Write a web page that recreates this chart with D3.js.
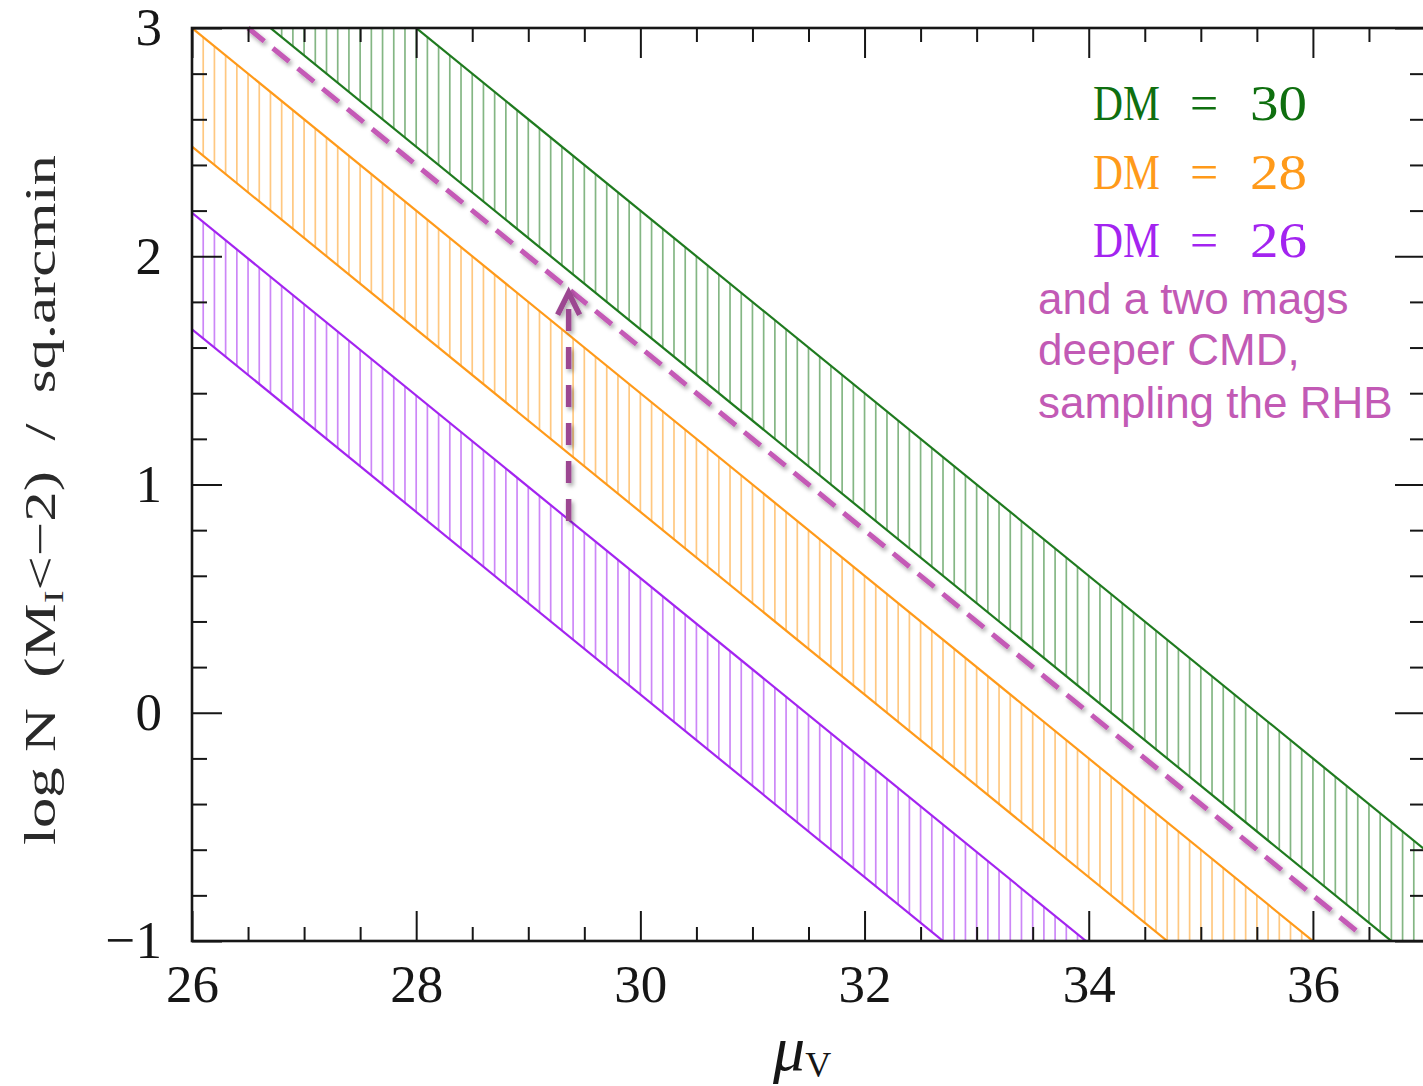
<!DOCTYPE html>
<html>
<head>
<meta charset="utf-8">
<script src="https://cdn.jsdelivr.net/npm/d3@7"></script>
<style>
  html, body { margin: 0; padding: 0; background: #fff; }
  svg { display: block; }
</style>
</head>
<body>
<svg id="chart" width="1423" height="1086"></svg>
<script>
// ---- data -------------------------------------------------------------
// Each band edge is a straight line given by its log N value at the two ends of the μV range.
const muEnds = [26, 37];
const distanceModuli = [30, 28, 26];
const bandColors = ["#1f7a1f", "#ff9a1a", "#a324f0"];
const upperEnds = [[3.80, -0.60], [3.00, -1.40], [2.19, -2.21]];
const lowerEnds = [[3.28, -1.12], [2.48, -1.92], [1.68, -2.72]];
const hatchStep = 0.1;

// Deeper-CMD limit (dashed) and the shift arrow
const deeperLine = [[26.5, 3.0], [36.42, -0.968]];
const arrowMu = 29.36;
const arrowFrom = 0.84;
const arrowTo = 1.84;

// Axis ticks and labels
const xMajor = [26, 28, 30, 32, 34, 36];
const xTickLabels = ["26", "28", "30", "32", "34", "36"];
const xMinor = [26.5, 27, 27.5, 28.5, 29, 29.5, 30.5, 31, 31.5, 32.5, 33, 33.5, 34.5, 35, 35.5, 36.5];
const yMajor = [-1, 0, 1, 2, 3];
const yTickLabels = ["\u22121", "0", "1", "2", "3"];
const yMinor = [-0.8, -0.6, -0.4, -0.2, 0.2, 0.4, 0.6, 0.8, 1.2, 1.4, 1.6, 1.8, 2.2, 2.4, 2.6, 2.8];
const noteLines = ["and a two mags", "deeper CMD,", "sampling the RHB"];

// ---- layout -----------------------------------------------------------
const svg = d3.select("#chart");
const plotLeft = 192, plotRight = 1425, plotTop = 28, plotBottom = 941;
const x = d3.scaleLinear().domain([26, 37]).range([plotLeft, plotRight]);
const y = d3.scaleLinear().domain([-1, 3]).range([plotBottom, plotTop]);

const defs = svg.append("defs");
defs.append("clipPath").attr("id", "plot-clip")
  .append("rect").attr("x", plotLeft).attr("y", plotTop)
  .attr("width", plotRight - plotLeft).attr("height", plotBottom - plotTop);

const shadow = defs.append("filter").attr("id", "soft-shadow")
  .attr("filterUnits", "userSpaceOnUse")
  .attr("x", 0).attr("y", 0).attr("width", 1423).attr("height", 1086);
shadow.append("feDropShadow")
  .attr("dx", 2).attr("dy", 3).attr("stdDeviation", 2)
  .attr("flood-color", "#000").attr("flood-opacity", 0.35);

// ---- hatched bands ----------------------------------------------------
const plot = svg.append("g").attr("clip-path", "url(#plot-clip)");
const hatchMu = d3.range(muEnds[0], muEnds[1] + 1e-9, hatchStep);

distanceModuli.forEach((dm, i) => {
  const color = bandColors[i];
  const up = d3.scaleLinear().domain(muEnds).range(upperEnds[i]);
  const lo = d3.scaleLinear().domain(muEnds).range(lowerEnds[i]);
  const g = plot.append("g").attr("class", "band dm" + dm);

  g.selectAll("line.hatch").data(hatchMu).join("line")
    .attr("class", "hatch")
    .attr("x1", d => x(d)).attr("x2", d => x(d))
    .attr("y1", d => y(lo(d))).attr("y2", d => y(up(d)))
    .attr("stroke", color).attr("stroke-opacity", 0.55).attr("stroke-width", 1.7);

  g.selectAll("line.edge").data([upperEnds[i], lowerEnds[i]]).join("line")
    .attr("class", "edge")
    .attr("x1", x(muEnds[0])).attr("y1", d => y(d[0]))
    .attr("x2", x(muEnds[1])).attr("y2", d => y(d[1]))
    .attr("stroke", color).attr("stroke-width", 2.2);
});

// ---- deeper CMD line and arrow ----------------------------------------
svg.append("line")
  .attr("x1", x(deeperLine[0][0])).attr("y1", y(deeperLine[0][1]))
  .attr("x2", x(deeperLine[1][0])).attr("y2", y(deeperLine[1][1]))
  .attr("stroke", "#c45ab6").attr("stroke-width", 5)
  .attr("stroke-dasharray", "21,11")
  .attr("filter", "url(#soft-shadow)");

const arrowG = svg.append("g").attr("filter", "url(#soft-shadow)");
arrowG.append("line")
  .attr("x1", x(arrowMu)).attr("y1", y(arrowFrom))
  .attr("x2", x(arrowMu)).attr("y2", y(arrowTo))
  .attr("stroke", "#9c4791").attr("stroke-width", 5.5)
  .attr("stroke-dasharray", "22,16");
arrowG.append("path")
  .attr("d", `M${x(arrowMu) - 11},${y(arrowTo) + 22} L${x(arrowMu)},${y(arrowTo)} L${x(arrowMu) + 11},${y(arrowTo) + 22}`)
  .attr("fill", "none").attr("stroke", "#9c4791").attr("stroke-width", 5.5)
  .attr("stroke-linejoin", "miter");

// ---- axes -------------------------------------------------------------
const ink = "#161616";
const serif = "'Liberation Serif', 'Times New Roman', serif";
function styleTicks(g) {
  g.select(".domain").remove();
  g.selectAll(".tick line").attr("stroke", ink).attr("stroke-width", 2);
  g.selectAll(".tick text")
    .attr("font-family", serif)
    .attr("font-size", 53).attr("fill", ink);
}

svg.append("g").attr("transform", `translate(0,${plotBottom})`)
  .call(d3.axisBottom(x).tickValues(xMajor)
    .tickFormat(d => xTickLabels[xMajor.indexOf(d)])
    .tickSize(-30).tickPadding(23))
  .call(styleTicks);
svg.append("g").attr("transform", `translate(0,${plotBottom})`)
  .call(d3.axisBottom(x).tickValues(xMinor).tickFormat("").tickSize(-14))
  .call(styleTicks);

svg.append("g").attr("transform", `translate(0,${plotTop})`)
  .call(d3.axisTop(x).tickValues(xMajor).tickFormat("").tickSize(-30))
  .call(styleTicks);
svg.append("g").attr("transform", `translate(0,${plotTop})`)
  .call(d3.axisTop(x).tickValues(xMinor).tickFormat("").tickSize(-14))
  .call(styleTicks);

svg.append("g").attr("transform", `translate(${plotLeft},0)`)
  .call(d3.axisLeft(y).tickValues(yMajor)
    .tickFormat(d => yTickLabels[yMajor.indexOf(d)])
    .tickSize(-30).tickPadding(30))
  .call(styleTicks);
svg.append("g").attr("transform", `translate(${plotLeft},0)`)
  .call(d3.axisLeft(y).tickValues(yMinor).tickFormat("").tickSize(-15))
  .call(styleTicks);

svg.append("g").attr("transform", `translate(${plotRight},0)`)
  .call(d3.axisRight(y).tickValues(yMajor).tickFormat("").tickSize(-30))
  .call(styleTicks);
svg.append("g").attr("transform", `translate(${plotRight},0)`)
  .call(d3.axisRight(y).tickValues(yMinor).tickFormat("").tickSize(-15))
  .call(styleTicks);

svg.append("rect")
  .attr("x", plotLeft).attr("y", plotTop)
  .attr("width", plotRight - plotLeft).attr("height", plotBottom - plotTop)
  .attr("fill", "none").attr("stroke", ink).attr("stroke-width", 2.6);

// ---- axis titles ------------------------------------------------------
const xTitle = svg.append("text")
  .attr("x", 773).attr("y", 1070)
  .attr("font-family", serif).attr("fill", ink);
xTitle.append("tspan").attr("font-size", 64).attr("font-style", "italic").text("\u03bc");
xTitle.append("tspan").attr("font-size", 36).attr("dy", 7).text("V");

const yTitle = svg.append("text")
  .attr("transform", "translate(55,845) rotate(-90)")
  .attr("font-family", serif).attr("font-size", 44).attr("fill", "#2a2a2a")
  .attr("textLength", 690).attr("lengthAdjust", "spacingAndGlyphs")
  .attr("xml:space", "preserve");
yTitle.append("tspan").text("log N  (M");
yTitle.append("tspan").attr("font-size", 28).attr("dy", 8).text("I");
yTitle.append("tspan").attr("dy", -8).text("<\u22122)  /  sq.arcmin");

// ---- legend -----------------------------------------------------------
const legendBaselines = [120, 189, 257];
const legendInk = ["#0f6f0f", "#ff9a1a", "#a324f0"];
distanceModuli.forEach((dm, i) => {
  const t = svg.append("text")
    .attr("y", legendBaselines[i])
    .attr("font-family", serif).attr("font-size", 50)
    .attr("fill", legendInk[i]);
  t.append("tspan").attr("x", 1093).attr("textLength", 67)
    .attr("lengthAdjust", "spacingAndGlyphs").text("DM");
  t.append("tspan").attr("x", 1190).text("=");
  t.append("tspan").attr("x", 1250).attr("textLength", 57)
    .attr("lengthAdjust", "spacingAndGlyphs").text(String(dm));
});

// ---- note -------------------------------------------------------------
const noteBaselines = [314, 365, 418];
svg.append("g").selectAll("text").data(noteLines).join("text")
  .attr("x", 1038).attr("y", (d, i) => noteBaselines[i])
  .attr("font-family", "'Liberation Sans', Arial, sans-serif")
  .attr("font-size", 44).attr("fill", "#c25ab5")
  .text(d => d);
</script>
</body>
</html>
